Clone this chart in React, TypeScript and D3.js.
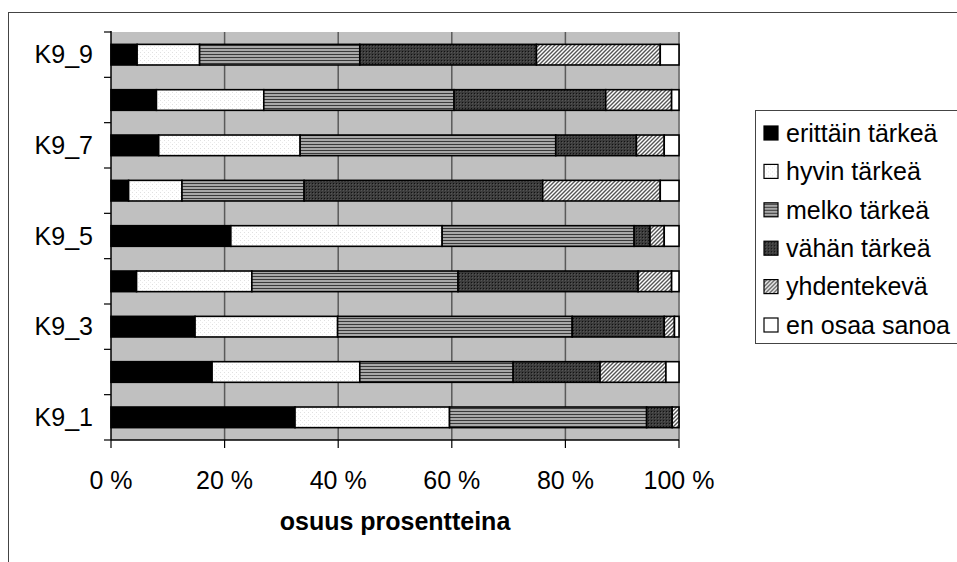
import React from "react";
import * as d3 from "d3";

const categories = ["K9_1", "K9_2", "K9_3", "K9_4", "K9_5", "K9_6", "K9_7", "K9_8", "K9_9"];
const shownLabels = ["K9_1", "K9_3", "K9_5", "K9_7", "K9_9"];
const seriesNames = ["erittäin tärkeä", "hyvin tärkeä", "melko tärkeä", "vähän tärkeä", "yhdentekevä", "en osaa sanoa"];

const erittain = [32.4, 17.8, 14.8, 4.5, 21.1, 3.1, 8.4, 8.0, 4.6];
const hyvin = [27.2, 26.0, 25.1, 20.3, 37.2, 9.4, 24.9, 18.9, 11.0];
const melko = [34.7, 27.0, 41.3, 36.3, 33.8, 21.5, 45.0, 33.5, 28.2];
const vahan = [4.5, 15.3, 16.2, 31.7, 2.8, 42.0, 14.2, 26.7, 31.1];
const yhdentekeva = [1.2, 11.6, 1.8, 5.9, 2.5, 20.7, 4.9, 11.6, 21.8];
const enOsaa = [0.0, 2.3, 0.8, 1.3, 2.6, 3.3, 2.6, 1.3, 3.3];

const xTicks = [0, 20, 40, 60, 80, 100];
const xTitle = "osuus prosentteina";

const fills = ["#000000", "url(#pHyvin)", "url(#pMelko)", "url(#pVahan)", "url(#pYhd)", "#ffffff"];

export default function App() {
  const W = 957, H = 562;
  const left = 111, right = 679, top = 32, bottom = 440;
  const x = d3.scaleLinear().domain([0, 100]).range([left, right]);
  const y = d3
    .scaleBand<string>()
    .domain([...categories].reverse())
    .range([top, bottom])
    .paddingInner(0.545)
    .paddingOuter(0.2727);

  const rows = categories.map((c, i) => ({
    cat: c,
    v: [erittain[i], hyvin[i], melko[i], vahan[i], yhdentekeva[i], enOsaa[i]],
  }));
  const keys = [0, 1, 2, 3, 4, 5];
  const stack = d3
    .stack<any, number>()
    .keys(keys as any)
    .value((d: any, k: any) => d.v[k]);
  const normRows = rows.map((r) => {
    const s = d3.sum(r.v);
    return { cat: r.cat, v: r.v.map((q) => (q / s) * 100) };
  });
  const stacked = stack(normRows);

  const step = (bottom - top) / categories.length;
  const bandBounds = d3.range(categories.length + 1).map((k) => top + k * step);

  const font = "Liberation Sans, Arial, sans-serif";
  const fs = 25;
  const legendY0 = 133, legendDy = 38.4;

  return (
    <svg width={W} height={H} style={{ position: "absolute", left: 0, top: 0, display: "block" }}>
      <defs>
        <pattern id="pHyvin" width="4" height="4" patternUnits="userSpaceOnUse">
          <rect width="4" height="4" fill="#ffffff" />
          <rect x="0" y="0" width="1" height="1" fill="#e0e0e0" />
          <rect x="2" y="2" width="1" height="1" fill="#ebebeb" />
        </pattern>
        <pattern id="pMelko" width="4" height="3" patternUnits="userSpaceOnUse">
          <rect width="4" height="3" fill="#a8a8a8" />
          <rect x="0" y="0" width="4" height="1" fill="#3a3a3a" />
        </pattern>
        <pattern id="pVahan" width="3" height="3" patternUnits="userSpaceOnUse">
          <rect width="3" height="3" fill="#3c3c3c" />
          <rect x="0" y="0" width="1" height="1" fill="#111111" />
          <rect x="1" y="1" width="1" height="1" fill="#555555" />
        </pattern>
        <pattern id="pYhd" width="4" height="4" patternUnits="userSpaceOnUse">
          <rect width="4" height="4" fill="#ffffff" />
          <path d="M0,4 L4,0 M-1,1 L1,-1 M3,5 L5,3" stroke="#555555" strokeWidth="1.4" />
        </pattern>
      </defs>

      {/* outer chart border */}
      <rect x={8.5} y={12.5} width={W + 10} height={H + 10} fill="#ffffff" stroke="#444444" strokeWidth={1} />

      {/* plot area */}
      <rect x={left} y={top} width={right - left} height={bottom - top} fill="#c0c0c0" />
      {xTicks.slice(1).map((t) => (
        <line key={"g" + t} x1={x(t)} x2={x(t)} y1={top} y2={bottom} stroke="#5a5a5a" strokeWidth={1.5} />
      ))}
      <line x1={right} x2={right} y1={top} y2={bottom} stroke="#808080" strokeWidth={1.5} />

      {/* bars */}
      {stacked.map((layer, li) =>
        layer.map((seg, ci) => {
          const cat = normRows[ci].cat;
          const w = x(seg[1]) - x(seg[0]);
          if (w <= 0.01) return null;
          return (
            <rect
              key={li + "-" + ci}
              x={x(seg[0])}
              y={y(cat)!}
              width={w}
              height={y.bandwidth()}
              fill={fills[li]}
              stroke="#000000"
              strokeWidth={1.6}
            />
          );
        })
      )}

      {/* axes */}
      <line x1={left} x2={left} y1={top - 1} y2={bottom} stroke="#000000" strokeWidth={1.5} />
      <line x1={left} x2={right} y1={bottom} y2={bottom} stroke="#000000" strokeWidth={1.5} />
      {bandBounds.map((b, k) => (
        <line key={"yt" + k} x1={left - 7} x2={left} y1={b} y2={b} stroke="#000000" strokeWidth={1.2} />
      ))}
      {xTicks.map((t) => (
        <line key={"xt" + t} x1={x(t)} x2={x(t)} y1={bottom} y2={bottom + 8} stroke="#000000" strokeWidth={1.2} />
      ))}

      {shownLabels.map((c) => (
        <text
          key={"yl" + c}
          x={93}
          y={y(c)! + y.bandwidth() / 2}
          dy="0.35em"
          textAnchor="end"
          fontFamily={font}
          fontSize={fs}
          fill="#000000"
        >
          {c}
        </text>
      ))}
      {xTicks.map((t) => (
        <text
          key={"xl" + t}
          x={x(t)}
          y={489}
          textAnchor="middle"
          fontFamily={font}
          fontSize={fs}
          fill="#000000"
        >
          {t + " %"}
        </text>
      ))}
      <text x={(left + right) / 2} y={530} textAnchor="middle" fontFamily={font} fontSize={fs} fontWeight="bold" fill="#000000">
        {xTitle}
      </text>

      {/* legend */}
      <rect x={755.5} y={110.5} width={220} height={233} fill="#ffffff" stroke="#444444" strokeWidth={1} />
      {seriesNames.map((n, i) => (
        <g key={"lg" + i} transform={`translate(0,${legendY0 + i * legendDy})`}>
          <rect x={764} y={-7} width={14} height={14} fill={fills[i]} stroke="#000000" strokeWidth={1.2} />
          <text x={786} y={0} dy="0.35em" fontFamily={font} fontSize={fs} fill="#000000">
            {n}
          </text>
        </g>
      ))}
    </svg>
  );
}
